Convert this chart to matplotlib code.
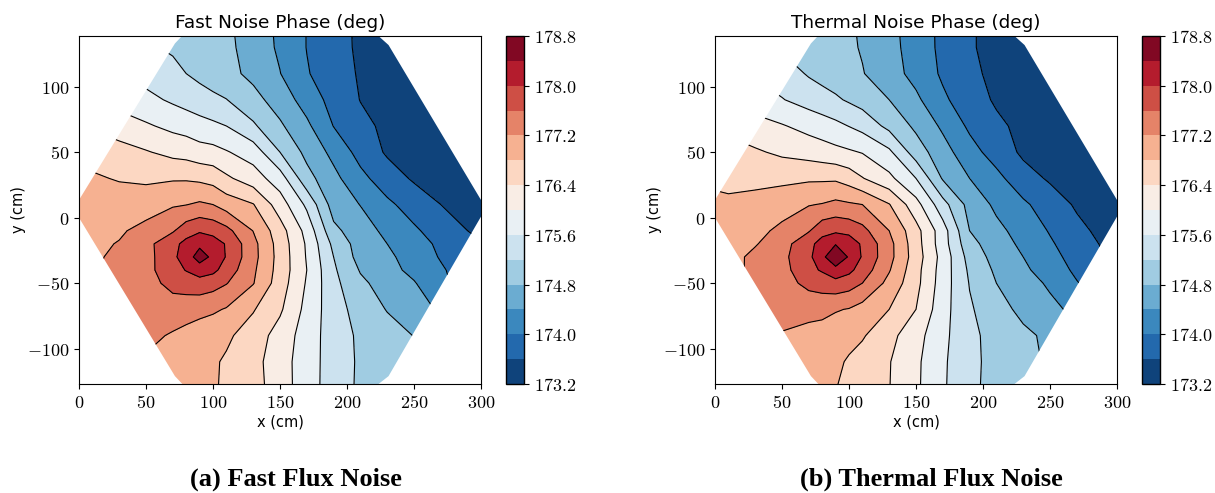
import numpy as np
import matplotlib
matplotlib.use('Agg')
import matplotlib.pyplot as plt
from matplotlib.patches import Polygon
from matplotlib.ticker import FuncFormatter

plt.rcParams['mathtext.fontset'] = 'cm'
plt.rcParams['font.family'] = ['DejaVu Sans']

# ---------------- data ----------------
x_cm = [-10, 10, 30, 50, 70, 80, 90, 100, 110, 130, 150, 170, 190, 210, 230, 250, 270, 290, 310]
y_cm = [-130, -110, -90, -70, -50, -40, -30, -20, -10, 10, 30, 50, 70, 90, 110, 130, 150]

fast_phase = [
    [177.25, 177.25, 177.2, 177.12, 177.03, 176.98, 176.93, 176.84, 176.74, 176.55, 176.2, 175.77, 175.42, 175.13, 174.95, 174.8, 174.6, 174.4, 174.2],
    [177.25, 177.3, 177.3, 177.15, 177.05, 177.0, 176.95, 176.85, 176.75, 176.53, 176.18, 175.78, 175.42, 175.14, 174.95, 174.8, 174.6, 174.4, 174.2],
    [177.2, 177.3, 177.35, 177.3, 177.16, 177.08, 177.01, 176.94, 176.87, 176.61, 176.24, 175.81, 175.4, 175.13, 174.96, 174.79, 174.6, 174.4, 174.2],
    [177.1, 177.2, 177.3, 177.42, 177.41, 177.37, 177.31, 177.26, 177.17, 176.83, 176.46, 175.88, 175.37, 175.04, 174.78, 174.55, 174.35, 174.1, 173.9],
    [177.0, 177.2, 177.3, 177.45, 177.72, 177.78, 177.84, 177.76, 177.62, 177.22, 176.6, 175.96, 175.31, 174.88, 174.63, 174.43, 174.08, 173.85, 173.7],
    [177.0, 177.15, 177.32, 177.48, 177.84, 178.02, 178.19, 178.1, 177.83, 177.27, 176.64, 176.0, 175.26, 174.77, 174.54, 174.29, 174.05, 173.8, 173.65],
    [177.0, 177.1, 177.33, 177.45, 177.91, 178.2, 178.58, 178.31, 177.97, 177.33, 176.65, 175.97, 175.2, 174.65, 174.48, 174.23, 173.97, 173.75, 173.6],
    [177.0, 177.12, 177.22, 177.48, 177.88, 178.12, 178.31, 178.18, 177.97, 177.32, 176.63, 175.95, 175.1, 174.62, 174.4, 174.15, 173.93, 173.7, 173.55],
    [176.95, 177.07, 177.15, 177.32, 177.56, 177.82, 177.95, 177.88, 177.72, 177.19, 176.57, 175.87, 174.9, 174.57, 174.31, 174.06, 173.82, 173.6, 173.45],
    [177.0, 176.95, 177.0, 177.02, 177.16, 177.19, 177.26, 177.2, 177.02, 176.82, 176.2, 175.52, 174.62, 174.39, 174.08, 173.83, 173.6, 173.45, 173.38],
    [177.0, 176.85, 176.77, 176.73, 176.76, 176.76, 176.72, 176.65, 176.47, 176.19, 175.79, 174.94, 174.51, 174.11, 173.79, 173.55, 173.42, 173.33, 173.28],
    [176.75, 176.65, 176.55, 176.43, 176.29, 176.25, 176.16, 176.13, 176.03, 175.82, 175.2, 174.69, 174.29, 173.86, 173.55, 173.45, 173.38, 173.32, 173.28],
    [176.5, 176.35, 176.2, 176.05, 175.9, 175.84, 175.75, 175.68, 175.6, 175.26, 174.86, 174.48, 173.99, 173.7, 173.52, 173.42, 173.35, 173.3, 173.27],
    [176.15, 176.0, 175.85, 175.71, 175.54, 175.45, 175.37, 175.29, 175.21, 174.93, 174.62, 174.23, 173.86, 173.59, 173.45, 173.35, 173.3, 173.26, 173.24],
    [175.9, 175.75, 175.6, 175.45, 175.3, 175.2, 175.1, 175.0, 174.92, 174.7, 174.41, 174.03, 173.78, 173.56, 173.45, 173.35, 173.3, 173.27, 173.25],
    [175.55, 175.45, 175.35, 175.25, 175.15, 175.1, 175.05, 174.98, 174.9, 174.62, 174.34, 173.99, 173.76, 173.53, 173.4, 173.3, 173.25, 173.22, 173.21],
    [175.5, 175.4, 175.3, 175.2, 175.1, 175.05, 175.0, 174.94, 174.87, 174.6, 174.32, 173.99, 173.76, 173.52, 173.4, 173.3, 173.25, 173.22, 173.21],
]

thermal_phase = [
    [177.1, 177.15, 177.15, 177.05, 176.95, 176.88, 176.81, 176.71, 176.6, 176.41, 176.07, 175.65, 175.3, 175.05, 174.9, 174.75, 174.55, 174.35, 174.15],
    [177.15, 177.2, 177.2, 177.1, 177.0, 176.94, 176.87, 176.76, 176.64, 176.42, 176.08, 175.66, 175.31, 175.06, 174.9, 174.75, 174.55, 174.35, 174.15],
    [177.15, 177.25, 177.25, 177.18, 177.1, 177.05, 176.98, 176.91, 176.84, 176.52, 176.15, 175.7, 175.3, 175.05, 174.88, 174.72, 174.55, 174.35, 174.15],
    [177.05, 177.15, 177.25, 177.3, 177.3, 177.3, 177.23, 177.18, 177.05, 176.8, 176.4, 175.75, 175.25, 174.95, 174.7, 174.5, 174.3, 174.05, 173.85],
    [176.95, 177.15, 177.25, 177.42, 177.72, 177.79, 177.86, 177.78, 177.6, 177.08, 176.52, 175.8, 175.18, 174.8, 174.57, 174.34, 174.02, 173.8, 173.65],
    [176.92, 177.1, 177.27, 177.45, 177.9, 178.04, 178.28, 178.1, 177.82, 177.23, 176.54, 175.82, 175.13, 174.73, 174.48, 174.2, 173.93, 173.7, 173.58],
    [176.9, 177.05, 177.3, 177.5, 177.9, 178.31, 178.7, 178.36, 177.96, 177.33, 176.6, 175.85, 175.05, 174.65, 174.4, 174.13, 173.85, 173.62, 173.5],
    [176.92, 177.02, 177.17, 177.44, 177.88, 178.16, 178.38, 178.24, 177.94, 177.33, 176.57, 175.78, 174.93, 174.58, 174.32, 174.05, 173.78, 173.56, 173.45],
    [176.9, 177.0, 177.1, 177.28, 177.57, 177.86, 177.93, 177.88, 177.72, 177.2, 176.54, 175.78, 174.8, 174.5, 174.25, 173.97, 173.7, 173.5, 173.4],
    [176.9, 176.87, 176.95, 177.05, 177.18, 177.22, 177.3, 177.25, 177.2, 176.82, 176.15, 175.35, 174.66, 174.32, 174.07, 173.8, 173.55, 173.42, 173.35],
    [176.75, 176.7, 176.68, 176.7, 176.74, 176.74, 176.74, 176.62, 176.42, 176.1, 175.6, 174.76, 174.4, 174.11, 173.76, 173.55, 173.42, 173.33, 173.28],
    [176.65, 176.55, 176.45, 176.33, 176.24, 176.18, 176.11, 176.05, 175.98, 175.68, 175.0, 174.56, 174.15, 173.83, 173.53, 173.43, 173.36, 173.3, 173.27],
    [176.45, 176.3, 176.15, 176.03, 175.87, 175.79, 175.7, 175.59, 175.47, 175.09, 174.72, 174.33, 173.93, 173.68, 173.5, 173.4, 173.33, 173.28, 173.25],
    [176.1, 175.95, 175.8, 175.62, 175.44, 175.35, 175.26, 175.15, 175.04, 174.8, 174.48, 174.07, 173.78, 173.55, 173.4, 173.32, 173.28, 173.25, 173.23],
    [175.85, 175.7, 175.55, 175.4, 175.16, 175.07, 174.99, 174.9, 174.82, 174.57, 174.27, 173.94, 173.69, 173.5, 173.38, 173.3, 173.26, 173.24, 173.22],
    [175.45, 175.35, 175.25, 175.15, 175.05, 175.0, 174.95, 174.86, 174.77, 174.52, 174.24, 173.9, 173.65, 173.45, 173.33, 173.27, 173.23, 173.22, 173.21],
    [175.42, 175.32, 175.22, 175.12, 175.02, 174.97, 174.92, 174.84, 174.75, 174.5, 174.22, 173.9, 173.65, 173.45, 173.33, 173.27, 173.23, 173.22, 173.21],
]

# core outline (cm)
core_x = [0, 0, 71.6, 79, 221, 231, 300, 300, 231, 221, 79, 71.6]
core_y = [0, 13.5, 133, 141, 141, 131.8, 13.5, 0.8, -121, -129, -129, -121]

level_min, level_max, level_step = 173.2, 178.8, 0.4
cbar_ticks = [173.2, 174.0, 174.8, 175.6, 176.4, 177.2, 178.0, 178.8]

titles = ["Fast Noise Phase (deg)", "Thermal Noise Phase (deg)"]
captions = ["(a) Fast Flux Noise", "(b) Thermal Flux Noise"]

# ---------------- figure ----------------
W, H = 1215, 493
fig = plt.figure(figsize=(W / 100, H / 100), dpi=100)

levels = np.round(np.arange(level_min, level_max + level_step / 2, level_step), 2)
X, Y = np.meshgrid(np.array(x_cm, float), np.array(y_cm, float))

math_fmt = FuncFormatter(lambda v, p: r'$%g$' % v)
cbar_fmt = FuncFormatter(lambda v, p: r'$%.1f$' % v)

ax_left_px = [79, 715]
cb_left_px = [506, 1142]
caption_x_px = [296, 931]
ax_w_px, ax_top_px, ax_bot_px = 402, 36, 384
cb_w_px = 18

for i, data in enumerate([fast_phase, thermal_phase]):
    Z = np.array(data, float)
    rect = [ax_left_px[i] / W, (H - ax_bot_px) / H, ax_w_px / W, (ax_bot_px - ax_top_px) / H]
    ax = fig.add_axes(rect)
    cf = ax.contourf(X, Y, Z, levels=levels, cmap='RdBu_r')
    cl = ax.contour(X, Y, Z, levels=levels, colors='k', linewidths=0.8)
    poly = Polygon(np.column_stack([core_x, core_y]), closed=True,
                   facecolor='none', edgecolor='none', transform=ax.transData)
    ax.add_patch(poly)
    cf.set_clip_path(poly)
    cl.set_clip_path(poly)
    ax.set_xlim(0, 300)
    ax.set_ylim(-127, 138.7)
    ax.set_xticks([0, 50, 100, 150, 200, 250, 300])
    ax.set_yticks([-100, -50, 0, 50, 100])
    ax.xaxis.set_major_formatter(math_fmt)
    ax.yaxis.set_major_formatter(math_fmt)
    ax.tick_params(labelsize=13)
    ax.set_xlabel('x (cm)', fontsize=10.5, labelpad=2)
    ax.set_ylabel('y (cm)', fontsize=10.5, labelpad=0.5)
    ax.set_title(titles[i], fontsize=13.3, pad=6)

    cax = fig.add_axes([cb_left_px[i] / W, (H - ax_bot_px) / H, cb_w_px / W, (ax_bot_px - ax_top_px) / H])
    cb = fig.colorbar(cf, cax=cax, ticks=cbar_ticks)
    cb.ax.yaxis.set_major_formatter(cbar_fmt)
    cb.ax.tick_params(labelsize=13)
    cb.outline.set_linewidth(1.0)

    fig.text(caption_x_px[i] / W, (H - 479) / H, captions[i], ha='center', va='center',
             fontsize=19, fontweight='bold', family=['Liberation Serif', 'DejaVu Serif'])

fig.savefig('out.png', dpi=100)
